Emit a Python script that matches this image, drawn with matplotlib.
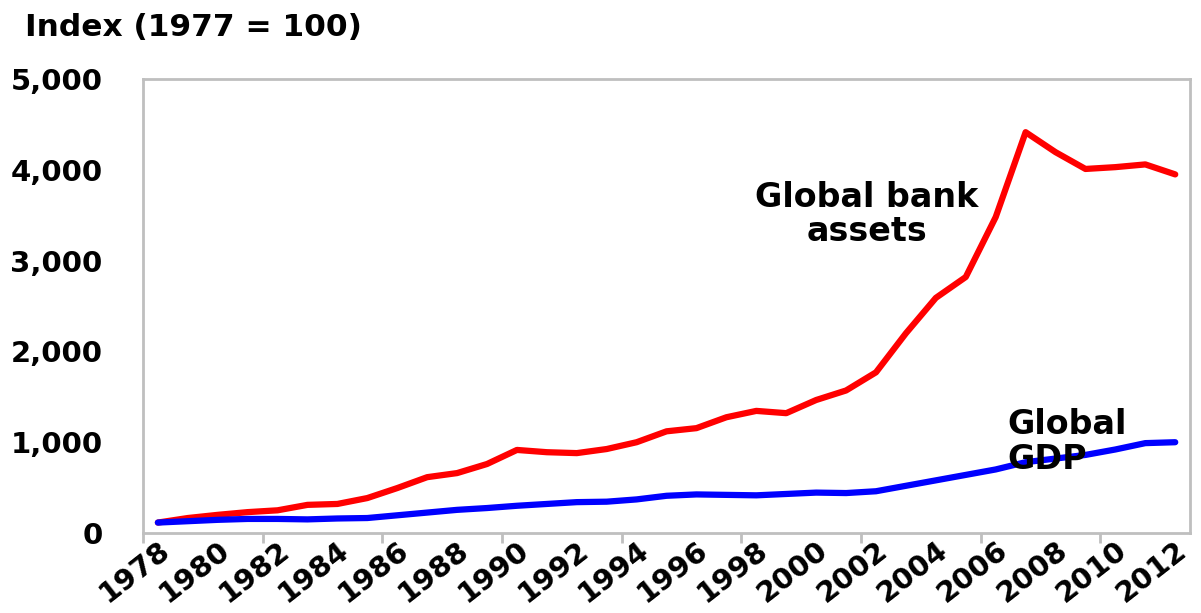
import numpy as np
import matplotlib.pyplot as plt

years = list(range(1978, 2013))
bank_assets = [115, 165, 200, 230, 250, 310, 320, 385, 495, 615,
               660, 760, 915, 890, 880, 925, 1000, 1120, 1155, 1275,
               1345, 1320, 1465, 1570, 1770, 2200, 2590, 2820, 3480, 4415,
               4195, 4010, 4030, 4060, 3950]
global_gdp = [115, 130, 145, 155, 155, 150, 160, 165, 195, 225,
              255, 275, 300, 320, 340, 345, 370, 410, 425, 420,
              415, 430, 445, 440, 460, 520, 580, 640, 700, 780,
              820, 860, 920, 990, 1000]
ytick_vals = [0, 1000, 2000, 3000, 4000, 5000]

plt.rcParams['font.family'] = 'DejaVu Sans'
plt.rcParams['font.weight'] = 'bold'

fig = plt.figure(figsize=(12.01, 6.13), dpi=100)
ax = fig.add_axes([0.119, 0.1305, 0.872, 0.7405])

ax.plot(years, bank_assets, color='#ff0000', lw=4.5, solid_capstyle='round')
ax.plot(years, global_gdp, color='#0000ff', lw=4.5, solid_capstyle='round')

ax.set_xlim(1977.5, 2012.5)
ax.set_ylim(0, 5000)

ax.set_yticks(ytick_vals)
ax.set_yticklabels([f'{v:,}' for v in ytick_vals], fontsize=21, fontweight='bold')
ax.tick_params(axis='y', length=0, pad=29)

ax.set_xticks(years[::2])
ax.set_xticklabels([str(y) for y in years[::2]], fontsize=21, fontweight='bold',
                   rotation=38, ha='right', va='top', rotation_mode='anchor')
ax.tick_params(axis='x', which='major', length=0, pad=2)
ax.set_xticks(np.arange(1977.5, 2013, 4), minor=True)
ax.tick_params(axis='x', which='minor', length=7, width=2, color='#bfbfbf')

for s in ax.spines.values():
    s.set_color('#bfbfbf')
    s.set_linewidth(2)

ax.text(2001.7, 3510, 'Global bank\nassets', fontsize=24, fontweight='bold',
        ha='center', va='center', linespacing=1.05)
ax.text(2006.4, 1000, 'Global\nGDP', fontsize=24, fontweight='bold',
        ha='left', va='center', linespacing=1.08)

fig.text(25 / 1201, 1 - 28 / 613, 'Index (1977 = 100)', fontsize=22.5,
         fontweight='bold', ha='left', va='center')

fig.savefig('out.png', dpi=100)
